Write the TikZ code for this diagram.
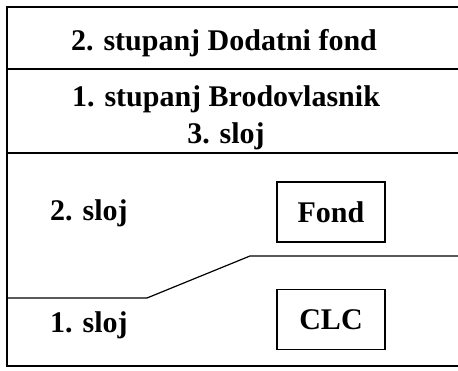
\documentclass[tikz,border=0pt]{standalone}
\usepackage{fontspec}
\setmainfont{Liberation Serif}

\begin{document}
\begin{tikzpicture}[x=1pt, y=-1pt,
  lbl/.style={font=\fontsize{30}{37}\selectfont\bfseries, align=center, inner sep=0pt},
  layerbox/.style={lbl, draw, line width=1.2pt, minimum width=108pt, minimum height=60pt}]
  \useasboundingbox (0, 0) rectangle (458, 371);
  %
  \newcommand{\rightEnd}{458}
  %
  % outer frame, open on the right
  \draw[line width=2.6pt] (\rightEnd, 7) -- (7, 7) -- (7, 366) -- (\rightEnd, 366);
  \foreach \y in {69, 153} {
    \draw[line width=1.4pt] (7, \y) -- (\rightEnd, \y);
  }
  % boundary between 1. and 2. sloj
  \draw[line width=1.2pt] (7, 298) -- (147, 298) -- (250, 256) -- (\rightEnd, 256);
  %
  \node[lbl] (dodatni) at (224, 43) {2. stupanj Dodatni fond};
  \node[lbl] (brodovlasnik) at (226, 118) {1. stupanj Brodovlasnik\\3. sloj};
  \node[lbl, anchor=west] (sloj2) at (50, 213) {2. sloj};
  \node[lbl, anchor=west] (sloj1) at (50, 325) {1. sloj};
  %
  \node[layerbox] (fond) at (331, 212) {Fond};
  \node[layerbox] (clc) at (331, 319.5) {CLC};
\end{tikzpicture}
\end{document}
